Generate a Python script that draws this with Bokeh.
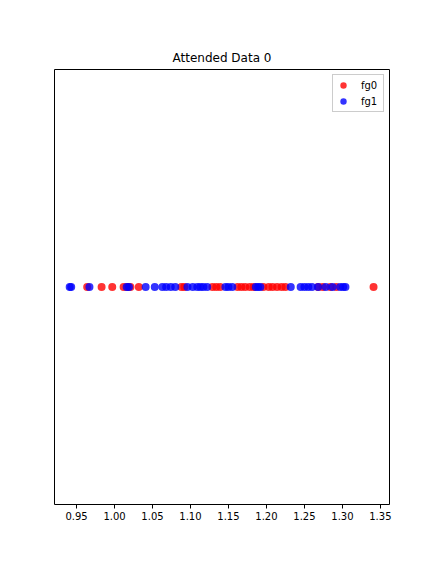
from bokeh.plotting import figure
from bokeh.models import FixedTicker, Range1d, Legend, LegendItem, ColumnDataSource
from bokeh.embed import file_html
from bokeh.resources import INLINE

fg0_x = [0.964, 0.983, 0.997, 1.012, 1.017, 1.021, 1.032, 1.088, 1.092, 1.129, 1.134, 1.139,
         1.162, 1.167, 1.172, 1.178, 1.183, 1.196, 1.203, 1.208, 1.214, 1.220, 1.225,
         1.268, 1.274, 1.284, 1.292, 1.341]
fg1_x = [0.941, 0.943, 0.967, 1.016, 1.019, 1.041, 1.053, 1.063, 1.068, 1.074, 1.080, 1.096,
         1.103, 1.109, 1.113, 1.117, 1.122, 1.146, 1.150, 1.155, 1.186, 1.189, 1.192, 1.232,
         1.245, 1.250, 1.255, 1.260, 1.268, 1.278, 1.287, 1.297, 1.301, 1.304]
x_ticks = [0.95, 1.00, 1.05, 1.10, 1.15, 1.20, 1.25, 1.30, 1.35]
tick_labels = ["0.95", "1.00", "1.05", "1.10", "1.15", "1.20", "1.25", "1.30", "1.35"]

p = figure(width=432, height=576, output_backend="svg", toolbar_location=None,
           title="Attended Data 0",
           x_range=Range1d(0.921, 1.362), y_range=Range1d(-0.055, 0.055),
           min_border_left=54, min_border_right=43, min_border_top=69, min_border_bottom=72)
p.background_fill_color = "white"
p.border_fill_color = "white"
p.outline_line_color = "black"
p.outline_line_width = 1
p.xgrid.visible = False
p.ygrid.visible = False
p.yaxis.visible = False

p.title.text_font = "DejaVu Sans"
p.title.text_font_size = "12px"
p.title.text_font_style = "normal"
p.title.align = "center"
p.title.text_color = "black"

p.xaxis.ticker = FixedTicker(ticks=x_ticks)
p.xaxis.major_label_overrides = {t: l for t, l in zip(x_ticks, tick_labels)}
p.xaxis.major_label_text_font = "DejaVu Sans"
p.xaxis.major_label_text_font_size = "10px"
p.xaxis.major_label_text_color = "black"
p.xaxis.axis_line_color = None
p.xaxis.minor_tick_line_color = None
p.xaxis.major_tick_in = 0
p.xaxis.major_tick_out = 4
p.xaxis.major_label_standoff = 3

s0 = ColumnDataSource(dict(x=fg0_x, y=[0.0] * len(fg0_x)))
s1 = ColumnDataSource(dict(x=fg1_x, y=[0.0] * len(fg1_x)))
r0 = p.scatter("x", "y", source=s0, size=8, fill_color="#ff0000", line_color=None, fill_alpha=0.8)
r1 = p.scatter("x", "y", source=s1, size=8, fill_color="#0000ff", line_color=None, fill_alpha=0.8)

legend = Legend(items=[LegendItem(label="fg0", renderers=[r0]), LegendItem(label="fg1", renderers=[r1])],
                location="top_right")
legend.label_text_font = "DejaVu Sans"
legend.label_text_font_size = "10px"
legend.label_text_color = "black"
legend.border_line_color = "#cccccc"
legend.border_line_alpha = 1
legend.glyph_width = 16
legend.glyph_height = 16
legend.spacing = 0
legend.padding = 2
legend.margin = 5
legend.label_height = 16
legend.label_standoff = 10
p.add_layout(legend)

open("out.html", "w").write(file_html(p, INLINE))
